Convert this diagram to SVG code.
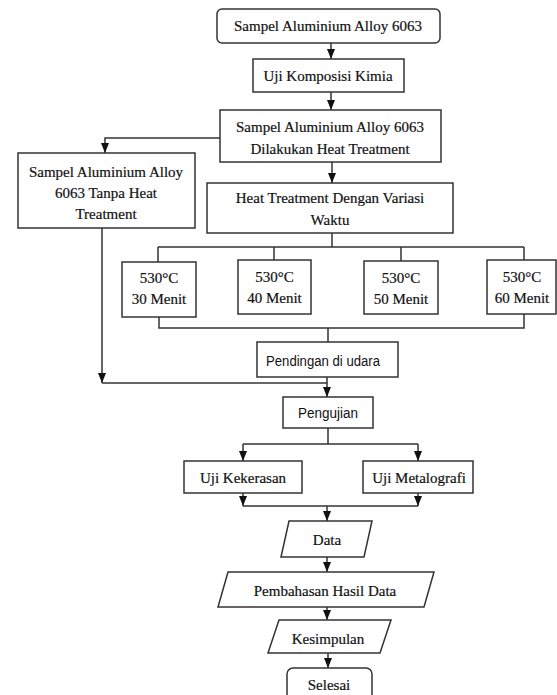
<svg xmlns="http://www.w3.org/2000/svg" width="557" height="695" viewBox="0 0 557 695">
<defs>
<marker id="ah" markerUnits="userSpaceOnUse" markerWidth="10" markerHeight="10" viewBox="0 0 10 10" refX="10" refY="5" orient="auto">
<path d="M0,1 L10,5 L0,9 Z" fill="#111"/>
</marker>
</defs>
<style>
.b{fill:#fff;stroke:#333;stroke-width:1.5}
.t{font-family:"Liberation Serif","Times New Roman",serif;font-size:15px;fill:#111;text-anchor:middle;stroke:#111;stroke-width:0.2}
.s{font-family:"Liberation Sans",Arial,sans-serif;font-size:14px;fill:#111;text-anchor:middle}
.c{fill:none;stroke:#333;stroke-width:1.5}
</style>
<rect width="557" height="695" fill="#fff"/>
<g id="connectors">
<path class="c" d="M331 43 V59" marker-end="url(#ah)"/>
<path class="c" d="M331 92 V110" marker-end="url(#ah)"/>
<path class="c" d="M220 138 H105 V153" marker-end="url(#ah)"/>
<path class="c" d="M332 162 V183" marker-end="url(#ah)"/>
<path class="c" d="M332 233 V247 M158 247 H524 M158 247 V262 M274 247 V260 M401 247 V261 M524 247 V260"/>
<path class="c" d="M159 317 V328 H524 V314 M328 328 V342"/>
<path class="c" d="M102 228 V383" marker-end="url(#ah)"/>
<path class="c" d="M102 383 H327"/>
<path class="c" d="M327 377 V397" marker-end="url(#ah)"/>
<path class="c" d="M328 428 V444 M243 444 H418"/>
<path class="c" d="M243 444 V461" marker-end="url(#ah)"/>
<path class="c" d="M418 444 V461" marker-end="url(#ah)"/>
<path class="c" d="M243 493 V506" marker-end="url(#ah)"/>
<path class="c" d="M418 493 V506" marker-end="url(#ah)"/>
<path class="c" d="M243 506 H418"/>
<path class="c" d="M327 506 V521" marker-end="url(#ah)"/>
<path class="c" d="M327 557 V572" marker-end="url(#ah)"/>
<path class="c" d="M327 607 V620" marker-end="url(#ah)"/>
<path class="c" d="M328 653 V668" marker-end="url(#ah)"/>
</g>
<g id="start">
<rect class="b" x="217" y="9" width="223" height="34" rx="5"/>
<text class="t" x="328" y="31">Sampel Aluminium Alloy 6063</text>
</g>
<g id="uji-komposisi">
<rect class="b" x="253" y="59" width="151" height="33"/>
<text class="t" x="328" y="81">Uji Komposisi Kimia</text>
</g>
<g id="heat-treatment-sample">
<rect class="b" x="220" y="110" width="221" height="52"/>
<text class="t" x="330" y="132">Sampel Aluminium Alloy 6063</text>
<text class="t" x="330" y="154">Dilakukan Heat Treatment</text>
</g>
<g id="tanpa-heat">
<rect class="b" x="18" y="153" width="177" height="75"/>
<text class="t" x="106" y="177">Sampel Aluminium Alloy</text>
<text class="t" x="106" y="198">6063 Tanpa Heat</text>
<text class="t" x="106" y="219">Treatment</text>
</g>
<g id="variasi-waktu">
<rect class="b" x="207" y="183" width="246" height="50"/>
<text class="t" x="330" y="203">Heat Treatment Dengan Variasi</text>
<text class="t" x="330" y="225">Waktu</text>
</g>
<g id="v30">
<rect class="b" x="122" y="262" width="74" height="55"/>
<text class="t" x="159" y="283">530°C</text>
<text class="t" x="159" y="304">30 Menit</text>
</g>
<g id="v40">
<rect class="b" x="238" y="260" width="73" height="54"/>
<text class="t" x="274.5" y="282">530°C</text>
<text class="t" x="274.5" y="303">40 Menit</text>
</g>
<g id="v50">
<rect class="b" x="364" y="261" width="74" height="53"/>
<text class="t" x="401" y="283">530°C</text>
<text class="t" x="401" y="304">50 Menit</text>
</g>
<g id="v60">
<rect class="b" x="487" y="260" width="69" height="54"/>
<text class="t" x="522" y="282">530°C</text>
<text class="t" x="522" y="303">60 Menit</text>
</g>
<g id="pendingan">
<rect class="b" x="257" y="342" width="141" height="35"/>
<text class="s" x="323" y="366" textLength="114" lengthAdjust="spacingAndGlyphs">Pendingan di udara</text>
</g>
<g id="pengujian">
<rect class="b" x="283" y="397" width="90" height="31"/>
<text class="s" x="328" y="418" textLength="60" lengthAdjust="spacingAndGlyphs">Pengujian</text>
</g>
<g id="kekerasan">
<rect class="b" x="184" y="461" width="118" height="32"/>
<text class="t" x="243" y="483">Uji Kekerasan</text>
</g>
<g id="metalografi">
<rect class="b" x="363" y="461" width="110" height="32"/>
<text class="t" x="419" y="483">Uji Metalografi</text>
</g>
<g id="data">
<polygon class="b" points="289,521 372,521 364,557 281,557"/>
<text class="t" x="327" y="545">Data</text>
</g>
<g id="pembahasan">
<polygon class="b" points="228,572 434,572 424,607 218,607"/>
<text class="t" x="325" y="596">Pembahasan Hasil Data</text>
</g>
<g id="kesimpulan">
<polygon class="b" points="279,620 391,620 380,653 268,653"/>
<text class="t" x="328" y="644">Kesimpulan</text>
</g>
<g id="selesai">
<rect class="b" x="287" y="668" width="85" height="40" rx="6"/>
<text class="t" x="329" y="690">Selesai</text>
</g>
</svg>
